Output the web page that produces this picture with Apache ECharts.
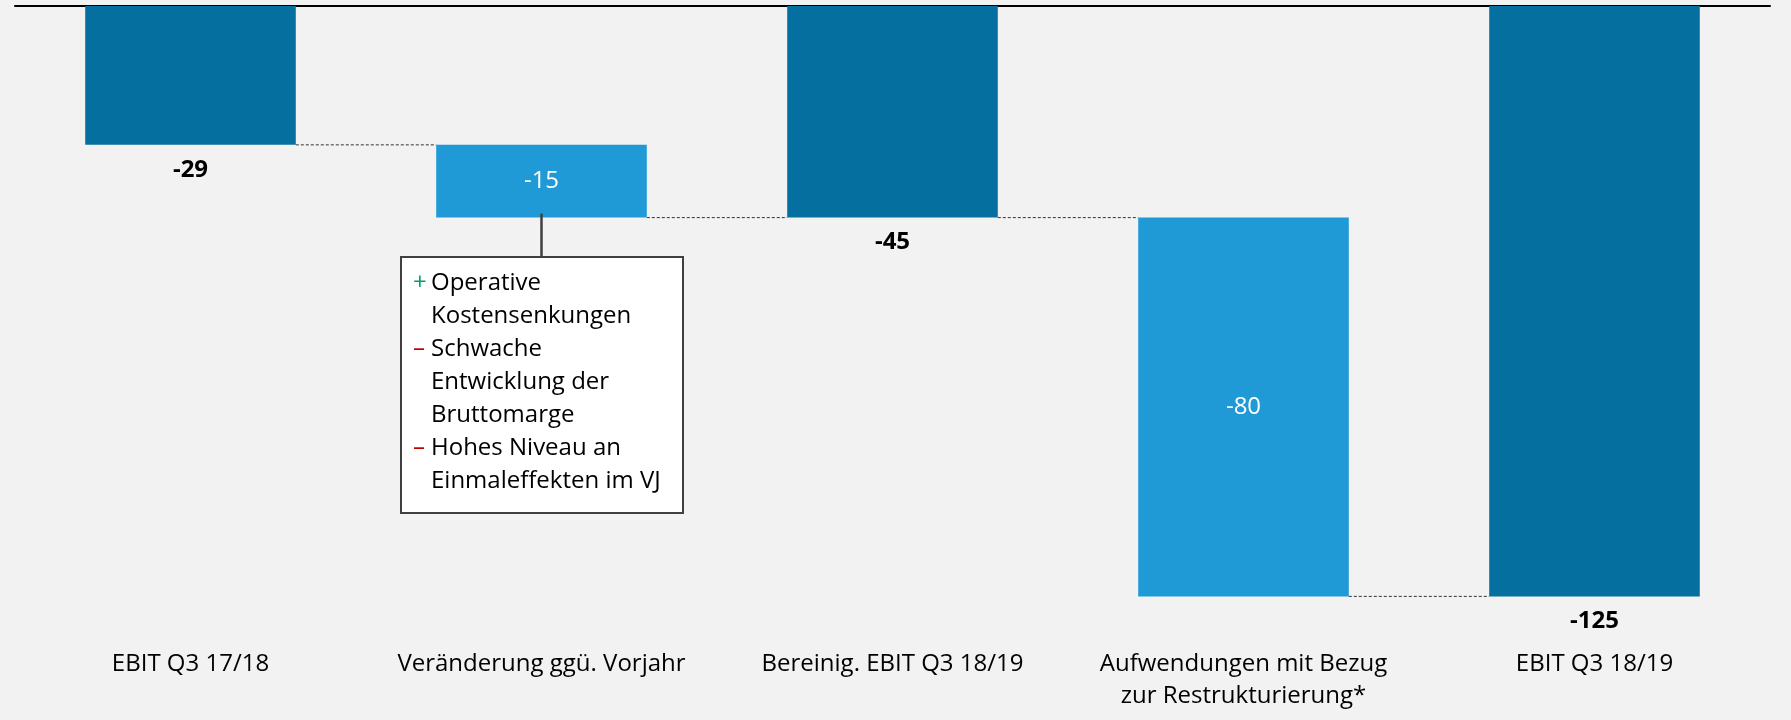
<!DOCTYPE html>
<html style="height: 100%">
<head>
<meta charset="utf-8">
<style>
  html, body { margin: 0; height: 100%; background: #f2f2f2; }
</style>
<script src="https://cdn.jsdelivr.net/npm/echarts@6/dist/echarts.min.js"></script>
</head>
<body>
<div id="container" style="width: 1791px; height: 720px"></div>
<script>
// categories and values (EUR m)
var categories = ['EBIT Q3 17/18', 'Veränderung ggü. Vorjahr', 'Bereinig. EBIT Q3 18/19',
                  'Aufwendungen mit Bezug\nzur Restrukturierung*', 'EBIT Q3 18/19'];
var totals = [-29.4, '-', -44.8, '-', -125];   // dark bars, start at zero
var deltas = ['-', -15.4, '-', -80.2, '-'];     // light floating bars
var bases  = ['-', -29.4, '-', -44.8, '-'];     // invisible offset for the floating bars
var levels = [-29.4, -44.8, -44.8, -125];       // connector level after each bar

var noteLines = [
  ['+', 'Operative'], ['', 'Kostensenkungen'],
  ['–', 'Schwache'], ['', 'Entwicklung der'], ['', 'Bruttomarge'],
  ['–', 'Hohes Niveau an'], ['', 'Einmaleffekten im VJ']
];

var FONT = '"Open Sans", sans-serif';
var DARK = '#05709f';
var LIGHT = '#1f9ad7';
var BAR_W = 0.6;

var dom = document.getElementById('container');
var myChart = echarts.init(dom);

function fmt(p) { return String(Math.round(p.value)); }

var option = {
  backgroundColor: '#f2f2f2',
  animation: false,
  grid: { left: 15, right: 21, top: 6, bottom: 100 },
  xAxis: [{
    type: 'category',
    position: 'top',
    data: categories,
    axisLine: { lineStyle: { color: '#000', width: 2 } },
    axisTick: { show: false },
    axisLabel: { show: false }
  }, {
    type: 'category',
    position: 'bottom',
    data: categories,
    axisLine: { show: false },
    axisTick: { show: false },
    axisLabel: {
      color: '#000', fontFamily: FONT, fontSize: 24,
      lineHeight: 32, margin: 28, interval: 0
    }
  }],
  yAxis: { type: 'value', min: -130, max: 0, show: false },
  series: [{
    name: 'base', type: 'bar', stack: 'wf', data: bases,
    barWidth: (BAR_W * 100) + '%',
    itemStyle: { color: 'transparent' },
    silent: true
  }, {
    name: 'total', type: 'bar', stack: 'wf', data: totals,
    itemStyle: { color: DARK },
    label: {
      show: true, position: 'bottom', distance: 13, formatter: fmt,
      color: '#000', fontFamily: FONT, fontSize: 24, fontWeight: 'bold', lineHeight: 24
    }
  }, {
    name: 'delta', type: 'bar', stack: 'wf', data: deltas,
    itemStyle: { color: LIGHT },
    label: {
      show: true, position: 'inside', formatter: fmt,
      color: '#fff', fontFamily: FONT, fontSize: 24
    }
  }, {
    name: 'connector', type: 'custom',
    data: levels.map(function (v, i) { return [i, v]; }),
    renderItem: function (params, api) {
      var i = api.value(0), v = api.value(1);
      var p1 = api.coord([i, v]);
      var p2 = api.coord([i + 1, v]);
      var half = api.size([1, 0])[0] * BAR_W / 2;
      return {
        type: 'line',
        shape: { x1: p1[0] + half, y1: p1[1], x2: p2[0] - half, y2: p2[1] },
        style: { stroke: '#333', lineWidth: 1, lineDash: [3, 2] }
      };
    },
    silent: true, z: 1
  }]
};

myChart.setOption(option);

// comment box under the second bar
var cx = myChart.convertToPixel({ xAxisIndex: 0 }, 1);
var by = myChart.convertToPixel({ yAxisIndex: 0 }, bases[1] + deltas[1]);
var boxL = 401, boxT = 257, boxW = 282, boxH = 256;
var rich = {
  g: { fill: '#00a070', width: 18, fontFamily: FONT, fontSize: 24 },
  r: { fill: '#c00000', width: 18, fontFamily: FONT, fontSize: 24 },
  s: { width: 18, fontFamily: FONT, fontSize: 24 },
  t: { fill: '#000', fontFamily: FONT, fontSize: 24 }
};
var noteText = noteLines.map(function (l) {
  var k = l[0] === '+' ? 'g' : (l[0] ? 'r' : 's');
  return '{' + k + '|' + (l[0] || ' ') + '}{t|' + l[1] + '}';
}).join('\n');

myChart.setOption({
  graphic: [{
    type: 'line', silent: true,
    shape: { x1: cx, y1: by - 4, x2: cx, y2: boxT },
    style: { stroke: '#404040', lineWidth: 2.5 },
    z: 10
  }, {
    type: 'rect', silent: true,
    shape: { x: boxL, y: boxT, width: boxW, height: boxH },
    style: { fill: '#fff', stroke: '#404040', lineWidth: 2 }
  }, {
    type: 'text', silent: true,
    left: boxL + 12, top: boxT + 10,
    style: { text: noteText, rich: rich, lineHeight: 33, font: '24px ' + FONT }
  }]
});

window.onresize = function () { myChart.resize(); };
</script>
</body>
</html>
